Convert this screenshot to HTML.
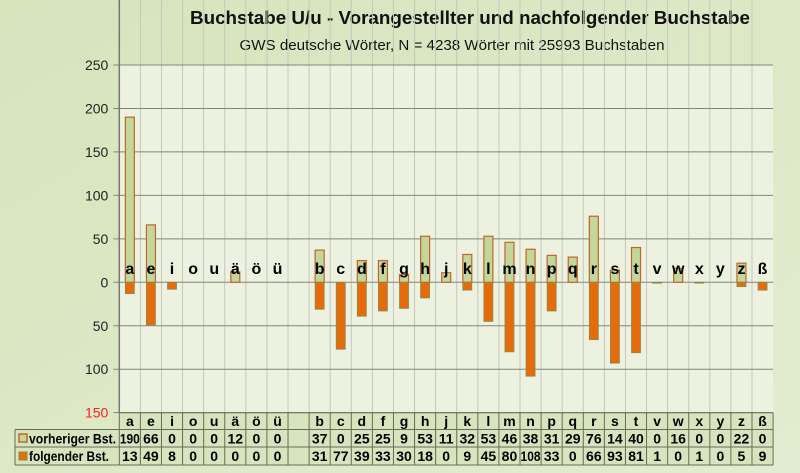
<!DOCTYPE html>
<html><head><meta charset="utf-8"><style>
html,body{margin:0;padding:0;width:800px;height:473px;overflow:hidden;background:#d9e6c2;}
svg{display:block;font-family:"Liberation Sans",sans-serif;}
</style></head><body>
<svg id="s" width="800" height="473" xmlns="http://www.w3.org/2000/svg">
<defs><linearGradient id="bg" x1="0" y1="0" x2="1" y2="1"><stop offset="0" stop-color="#d6e4bc"/><stop offset="1" stop-color="#e2ecd0"/></linearGradient></defs>
<rect width="800" height="473" fill="url(#bg)"/>
<text x="470" y="24" text-anchor="middle" font-size="18" font-weight="bold" fill="#111" textLength="560" lengthAdjust="spacingAndGlyphs">Buchstabe U/u - Vorangestellter und nachfolgender Buchstabe</text>
<text x="452" y="50" text-anchor="middle" font-size="15" fill="#111" textLength="425" lengthAdjust="spacingAndGlyphs">GWS deutsche Wörter, N = 4238 Wörter mit 25993 Buchstaben</text>
<rect x="119.3" y="65" width="653.7" height="347.7" fill="#edf1e0"/>
<g id="g"></g>
</svg>
<script>
var L=["a","e","i","o","u","ä","ö","ü","","b","c","d","f","g","h","j","k","l","m","n","p","q","r","s","t","v","w","x","y","z","ß"];
var V=[190,66,0,0,0,12,0,0,null,37,0,25,25,9,53,11,32,53,46,38,31,29,76,14,40,0,16,0,0,22,0];
var F=[13,49,8,0,0,0,0,0,null,31,77,39,33,30,18,0,9,45,80,108,33,0,66,93,81,1,0,1,0,5,9];
var x0=119.3,w=21.09,y0=282.3,k=0.8692,top=65,bot=412.7,s="";
for(var i=1;i<31;i++){var x=x0+i*w;s+='<line x1="'+x+'" y1="'+top+'" x2="'+x+'" y2="'+bot+'" stroke="#c4c8bc" stroke-width="1"/>';}
var ticks=[250,200,150,100,50,0,-50,-100,-150];
ticks.forEach(function(t){var y=y0-t*k;s+='<line x1="'+(x0-6)+'" y1="'+y+'" x2="773" y2="'+y+'" stroke="#808878" stroke-width="1"/>';
s+='<text x="'+(x0-11)+'" y="'+(y+5)+'" text-anchor="end" font-size="14" fill="'+(t==-150?'#ff2020':'#222')+'">'+Math.abs(t)+'</text>';});
s+='<line x1="'+x0+'" y1="'+top+'" x2="'+x0+'" y2="'+bot+'" stroke="#777" stroke-width="1.5"/>';
for(var i=0;i<31;i++){if(V[i]==null)continue;var cx=x0+i*w+w/2,bx=cx-4.5;
if(V[i]>0)s+='<rect x="'+bx+'" y="'+(y0-V[i]*k)+'" width="9" height="'+(V[i]*k)+'" fill="#c4d79b" stroke="#c0662a" stroke-width="1.2"/>';
if(F[i]>0)s+='<rect x="'+bx+'" y="'+y0+'" width="9" height="'+(F[i]*k)+'" fill="#e46c0a" stroke="#8a8a50" stroke-width="0.8"/>';}
for(var i=0;i<31;i++){var cx=x0+i*w+w/2;s+='<text x="'+cx+'" y="274" text-anchor="middle" font-size="16" font-weight="bold" fill="#000">'+L[i]+'</text>';}
var r=[412.7,429.5,447,465];
s+='<rect x="'+x0+'" y="412.7" width="653.7" height="52.3" fill="#d7e4bd"/>';
s+='<rect x="15" y="429.5" width="104.3" height="35.5" fill="#d7e4bd"/>';
r.forEach(function(y,j){s+='<line x1="'+(j==0?x0:15)+'" y1="'+y+'" x2="773" y2="'+y+'" stroke="#6a6a5a" stroke-width="1"/>';});
s+='<line x1="15" y1="429.5" x2="15" y2="465" stroke="#6a6a5a"/>';
for(var i=0;i<=31;i++){var x=x0+i*w;s+='<line x1="'+x+'" y1="412.7" x2="'+x+'" y2="465" stroke="#6a6a5a" stroke-width="1"/>';}
s+='<rect x="19" y="434" width="8" height="8" fill="#c4d79b" stroke="#c0662a" stroke-width="1.5"/>';
s+='<rect x="19" y="452" width="8" height="8" fill="#e46c0a" stroke="#8a8a50" stroke-width="1"/>';
s+='<text x="29" y="443.5" font-size="14" font-weight="bold" fill="#000" textLength="87" lengthAdjust="spacingAndGlyphs">vorheriger Bst.</text>';
s+='<text x="29" y="461" font-size="14" font-weight="bold" fill="#000" textLength="80" lengthAdjust="spacingAndGlyphs">folgender Bst.</text>';
function num(cx,y,v){var t=String(v);var tl=t.length>=3?' textLength="20" lengthAdjust="spacingAndGlyphs"':'';
return '<text x="'+cx+'" y="'+y+'" text-anchor="middle" font-size="14" font-weight="bold"'+tl+'>'+t+'</text>';}
for(var i=0;i<31;i++){var cx=x0+i*w+w/2;
s+='<text x="'+cx+'" y="426" text-anchor="middle" font-size="14" font-weight="bold">'+L[i]+'</text>';
if(V[i]!=null){s+=num(cx,443.5,V[i]);s+=num(cx,461,F[i]);}}
document.getElementById('g').innerHTML=s;
</script>
</body></html>
